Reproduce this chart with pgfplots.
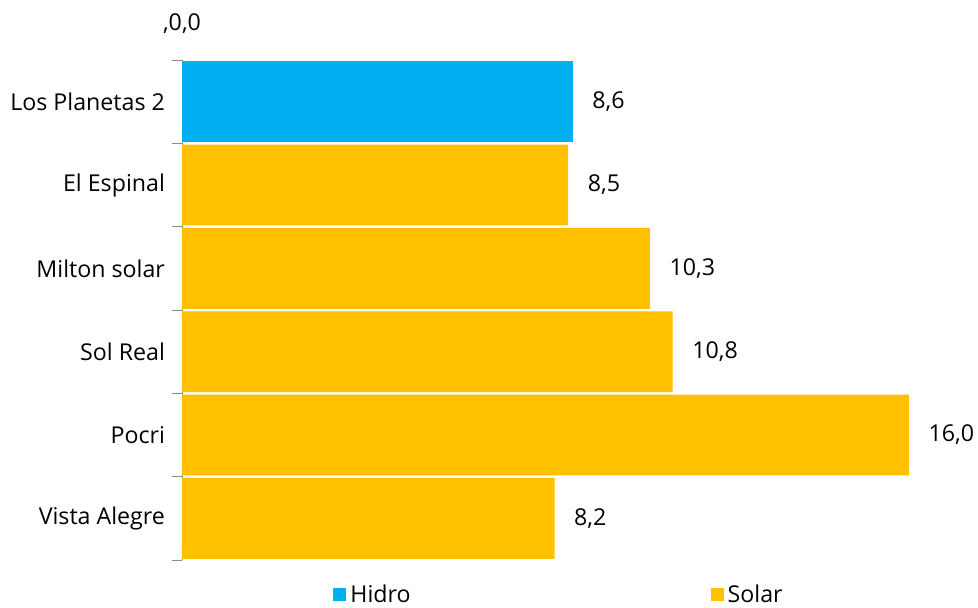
\documentclass[border=0pt]{standalone}
\usepackage{pgfplots}
\pgfplotsset{compat=1.18}
\usepackage{fontspec}
\setmainfont{Open Sans}
\definecolor{hidro}{HTML}{00B0F0}
\definecolor{solar}{HTML}{FFC000}
\definecolor{axgray}{RGB}{140,140,140}
\newcommand{\lbl}{\fontsize{11.6}{13.5}\selectfont}
\begin{document}
\begin{tikzpicture}
\begin{axis}[
  name=ax,
  scale only axis,
  width=397.5pt, height=250pt,
  xmin=0, xmax=17.5,
  ymin=0, ymax=6,
  y dir=reverse,
  hide x axis,
  axis y line*=left,
  axis line style={axgray, -},
  xbar, bar width=0.97, bar shift=0pt,
  ytick={0.5,1.5,2.5,3.5,4.5,5.5},
  yticklabels={Los Planetas 2, El Espinal, Milton solar, Sol Real, Pocri, Vista Alegre},
  major tick length=0pt,
  minor ytick={0,1,2,3,4,5,6},
  minor tick length=5pt,
  minor tick style={axgray},
  yticklabel style={font=\lbl, xshift=-5pt},
  nodes near coords,
  every node near coord/.append style={font=\lbl, anchor=west, xshift=6.3pt, text=black},
  /pgf/number format/.cd, fixed, fixed zerofill, precision=1, use comma, assume math mode=true,
  /pgfplots/.cd,
  legend columns=2,
  legend image code/.code={\fill[#1] (0pt,-3.25pt) rectangle (6.5pt,3.25pt);},
  legend style={draw=none, fill=none, inner sep=0pt, font=\lbl,
    at={(rel axis cs:0.19,0)}, anchor=north west, yshift=-10pt,
    /tikz/every even column/.append style={column sep=148pt},
    nodes={inner sep=2pt}},
]
\addplot[fill=hidro, draw=none] coordinates {(8.6,0.5)};
\addlegendentry{Hidro}
\addplot[fill=solar, draw=none] coordinates {(8.5,1.5) (10.3,2.5) (10.8,3.5) (16.0,4.5) (8.2,5.5)};
\addlegendentry{Solar}
\end{axis}
\node[font=\lbl, anchor=center] at ([yshift=18pt]ax.north west) {,0,0};
\pgfresetboundingbox
\path[use as bounding box] ([xshift=-91pt,yshift=-24pt]ax.south west) rectangle ([xshift=0.5pt,yshift=30pt]ax.north east);
\end{tikzpicture}
\end{document}
